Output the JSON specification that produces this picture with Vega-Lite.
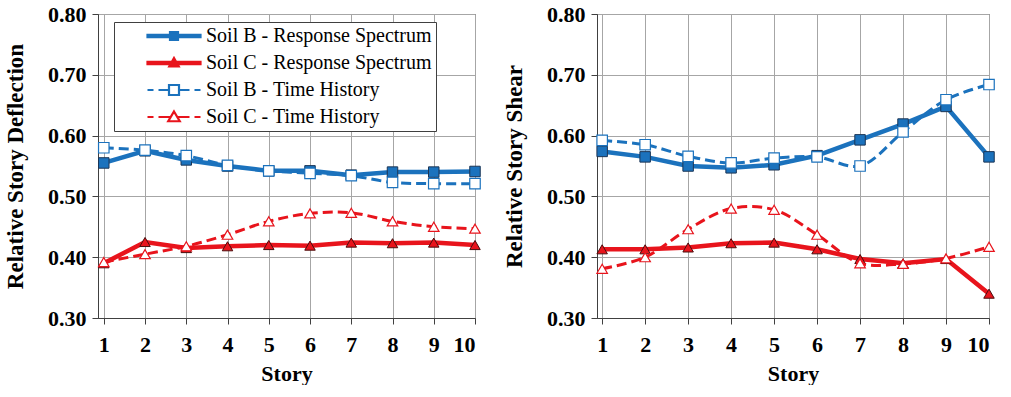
{
  "$schema": "https://vega.github.io/schema/vega-lite/v6.json",
  "background": "white",
  "padding": {"left": 4, "top": 2, "right": 0, "bottom": 0},
  "spacing": 18,
  "config": {
    "font": "Liberation Serif",
    "view": {"stroke": "#404040", "strokeWidth": 1},
    "legend": {"labelFont": "Liberation Serif", "labelFontSize": 20, "labelFontWeight": "normal", "labelColor": "black"},
    "axis": {
      "labelFont": "Liberation Serif", "labelFontWeight": "bold", "labelFontSize": 22, "labelColor": "black",
      "titleFont": "Liberation Serif", "titleFontWeight": "bold", "titleFontSize": 22, "titleColor": "black",
      "gridColor": "#a6a6a6", "gridOpacity": 1, "gridWidth": 1,
      "domainColor": "#404040", "tickColor": "#404040", "tickSize": 6, "labelPadding": 6
    }
  },
  "datasets": {
    "deflection": [
      {"story": 1, "series": "Soil B - Response Spectrum", "value": 0.555},
      {"story": 2, "series": "Soil B - Response Spectrum", "value": 0.575},
      {"story": 3, "series": "Soil B - Response Spectrum", "value": 0.560},
      {"story": 4, "series": "Soil B - Response Spectrum", "value": 0.550},
      {"story": 5, "series": "Soil B - Response Spectrum", "value": 0.542},
      {"story": 6, "series": "Soil B - Response Spectrum", "value": 0.542},
      {"story": 7, "series": "Soil B - Response Spectrum", "value": 0.535},
      {"story": 8, "series": "Soil B - Response Spectrum", "value": 0.540},
      {"story": 9, "series": "Soil B - Response Spectrum", "value": 0.540},
      {"story": 10, "series": "Soil B - Response Spectrum", "value": 0.541},
      {"story": 1, "series": "Soil C - Response Spectrum", "value": 0.390},
      {"story": 2, "series": "Soil C - Response Spectrum", "value": 0.425},
      {"story": 3, "series": "Soil C - Response Spectrum", "value": 0.415},
      {"story": 4, "series": "Soil C - Response Spectrum", "value": 0.418},
      {"story": 5, "series": "Soil C - Response Spectrum", "value": 0.420},
      {"story": 6, "series": "Soil C - Response Spectrum", "value": 0.419},
      {"story": 7, "series": "Soil C - Response Spectrum", "value": 0.424},
      {"story": 8, "series": "Soil C - Response Spectrum", "value": 0.423},
      {"story": 9, "series": "Soil C - Response Spectrum", "value": 0.424},
      {"story": 10, "series": "Soil C - Response Spectrum", "value": 0.420},
      {"story": 1, "series": "Soil B - Time History", "value": 0.580},
      {"story": 2, "series": "Soil B - Time History", "value": 0.576},
      {"story": 3, "series": "Soil B - Time History", "value": 0.567},
      {"story": 4, "series": "Soil B - Time History", "value": 0.551},
      {"story": 5, "series": "Soil B - Time History", "value": 0.542},
      {"story": 6, "series": "Soil B - Time History", "value": 0.538},
      {"story": 7, "series": "Soil B - Time History", "value": 0.534},
      {"story": 8, "series": "Soil B - Time History", "value": 0.523},
      {"story": 9, "series": "Soil B - Time History", "value": 0.521},
      {"story": 10, "series": "Soil B - Time History", "value": 0.521},
      {"story": 1, "series": "Soil C - Time History", "value": 0.392},
      {"story": 2, "series": "Soil C - Time History", "value": 0.405},
      {"story": 3, "series": "Soil C - Time History", "value": 0.418},
      {"story": 4, "series": "Soil C - Time History", "value": 0.437},
      {"story": 5, "series": "Soil C - Time History", "value": 0.459},
      {"story": 6, "series": "Soil C - Time History", "value": 0.472},
      {"story": 7, "series": "Soil C - Time History", "value": 0.473},
      {"story": 8, "series": "Soil C - Time History", "value": 0.459},
      {"story": 9, "series": "Soil C - Time History", "value": 0.450},
      {"story": 10, "series": "Soil C - Time History", "value": 0.447}
    ],
    "shear": [
      {"story": 1, "series": "Soil B - Response Spectrum", "value": 0.574},
      {"story": 2, "series": "Soil B - Response Spectrum", "value": 0.565},
      {"story": 3, "series": "Soil B - Response Spectrum", "value": 0.550},
      {"story": 4, "series": "Soil B - Response Spectrum", "value": 0.547},
      {"story": 5, "series": "Soil B - Response Spectrum", "value": 0.552},
      {"story": 6, "series": "Soil B - Response Spectrum", "value": 0.567},
      {"story": 7, "series": "Soil B - Response Spectrum", "value": 0.593},
      {"story": 8, "series": "Soil B - Response Spectrum", "value": 0.619},
      {"story": 9, "series": "Soil B - Response Spectrum", "value": 0.648},
      {"story": 10, "series": "Soil B - Response Spectrum", "value": 0.565},
      {"story": 1, "series": "Soil C - Response Spectrum", "value": 0.413},
      {"story": 2, "series": "Soil C - Response Spectrum", "value": 0.413},
      {"story": 3, "series": "Soil C - Response Spectrum", "value": 0.416},
      {"story": 4, "series": "Soil C - Response Spectrum", "value": 0.423},
      {"story": 5, "series": "Soil C - Response Spectrum", "value": 0.424},
      {"story": 6, "series": "Soil C - Response Spectrum", "value": 0.413},
      {"story": 7, "series": "Soil C - Response Spectrum", "value": 0.397},
      {"story": 8, "series": "Soil C - Response Spectrum", "value": 0.390},
      {"story": 9, "series": "Soil C - Response Spectrum", "value": 0.397},
      {"story": 10, "series": "Soil C - Response Spectrum", "value": 0.340},
      {"story": 1, "series": "Soil B - Time History", "value": 0.592},
      {"story": 2, "series": "Soil B - Time History", "value": 0.585},
      {"story": 3, "series": "Soil B - Time History", "value": 0.566},
      {"story": 4, "series": "Soil B - Time History", "value": 0.555},
      {"story": 5, "series": "Soil B - Time History", "value": 0.563},
      {"story": 6, "series": "Soil B - Time History", "value": 0.565},
      {"story": 7, "series": "Soil B - Time History", "value": 0.550},
      {"story": 8, "series": "Soil B - Time History", "value": 0.606},
      {"story": 9, "series": "Soil B - Time History", "value": 0.659},
      {"story": 10, "series": "Soil B - Time History", "value": 0.684},
      {"story": 1, "series": "Soil C - Time History", "value": 0.381},
      {"story": 2, "series": "Soil C - Time History", "value": 0.400},
      {"story": 3, "series": "Soil C - Time History", "value": 0.446},
      {"story": 4, "series": "Soil C - Time History", "value": 0.480},
      {"story": 5, "series": "Soil C - Time History", "value": 0.478},
      {"story": 6, "series": "Soil C - Time History", "value": 0.437},
      {"story": 7, "series": "Soil C - Time History", "value": 0.390},
      {"story": 8, "series": "Soil C - Time History", "value": 0.389},
      {"story": 9, "series": "Soil C - Time History", "value": 0.398},
      {"story": 10, "series": "Soil C - Time History", "value": 0.417}
    ]
  },
  "resolve": {"scale": {"color": "independent", "stroke": "independent", "shape": "independent", "opacity": "independent"}},
  "hconcat": [
    {
      "width": 377, "height": 304,
      "data": {"name": "deflection"},
      "encoding": {
        "x": {"field": "story", "type": "quantitative", "scale": {"domain": [0.86, 10], "nice": false, "zero": false},
              "axis": {"values": [1,2,3,4,5,6,7,8,9,10], "format": "d", "title": "Story", "labelPadding": 10, "titlePadding": 8, "grid": true}},
        "y": {"field": "value", "type": "quantitative", "scale": {"domain": [0.3, 0.8], "nice": false, "zero": false},
              "axis": {"values": [0.3,0.4,0.5,0.6,0.7,0.8], "format": ".2f", "title": "Relative Story Deflection", "titleFontSize": 23, "titlePadding": 20, "grid": true}}
      },
      "layer": [
        {
          "transform": [{"filter": "indexof(datum.series, 'Response') >= 0"}],
          "mark": {"type": "line", "strokeWidth": 4.5, "interpolate": "linear"},
          "encoding": {
            "color": {"field": "series", "type": "nominal",
              "scale": {"domain": ["Soil B - Time History", "Soil C - Time History", "Soil B - Response Spectrum", "Soil C - Response Spectrum"], "range": ["#1b72bd", "#e8141c", "#1b72bd", "#e8141c"]},
              "legend": null},
            "opacity": {"field": "series", "type": "nominal",
              "scale": {"type": "ordinal", "domain": ["Soil B - Response Spectrum", "Soil C - Response Spectrum", "Soil B - Time History", "Soil C - Time History"], "range": [1, 1, 1, 1]},
              "legend": {
                "orient": "none", "legendX": 16, "legendY": 8, "title": null,
                "padding": 4, "rowPadding": 7, "symbolOffset": 46, "labelOffset": 22,
                "labelFont": "Liberation Serif", "labelFontSize": 20, "labelFontWeight": "normal", "labelColor": "black", "labelLimit": 600,
                "strokeColor": "#404040", "fillColor": "white", "symbolSize": 100, "symbolStrokeWidth": 2.2,
                "encode": {
                  "labels": {"update": {
                    "text": {"signal": "datum.label + '\u00a0\u00a0\u00a0\u00a0\u00a0\u00a0'"}
                  }},
                  "symbols": {"update": {
                  "shape": {"signal": "datum.value == 'Soil B - Response Spectrum' ? 'M-5.3,-0.22H5.3V0.22H-5.3ZM-0.8,-0.8H0.8V0.8H-0.8Z' : datum.value == 'Soil C - Response Spectrum' ? 'M-5.3,-0.22H5.3V0.22H-5.3ZM0,-1L0.95,0.7H-0.95Z' : datum.value == 'Soil B - Time History' ? 'M-5.3,0H-4.1M-3.1,0H-1M1,0H3.1M4.1,0H5.3M-1,-1H1V1H-1Z' : 'M-5.3,0H-4.1M-3.1,0H-0.7M0.7,0H3.1M4.1,0H5.3M0,-1.1L1.15,0.85H-1.15Z'"},
                  "fill": {"signal": "indexof(datum.value, 'Response') >= 0 ? (indexof(datum.value, 'Soil B') == 0 ? '#1b72bd' : '#e8141c') : 'white'"},
                  "stroke": {"signal": "indexof(datum.value, 'Soil B') == 0 ? '#1b72bd' : '#e8141c'"},
                  "strokeWidth": {"value": 2.2},
                  "size": {"value": 100},
                  "fillOpacity": {"value": 1},
                  "strokeOpacity": {"value": 1}
                }}}
              }}
          }
        },
        {
          "transform": [{"filter": "indexof(datum.series, 'Response') >= 0"}],
          "mark": {"type": "point", "filled": true, "size": 110, "strokeWidth": 1, "opacity": 1},
          "encoding": {
            "color": {"field": "series", "type": "nominal", "legend": null},
            "shape": {"field": "series", "type": "nominal", "scale": {"domain": ["Soil C - Response Spectrum", "Soil B - Response Spectrum", "Soil C - Time History", "Soil B - Time History"], "range": ["triangle-up", "square", "triangle-up", "square"]}, "legend": null},
            "stroke": {"field": "series", "type": "nominal", "scale": {"domain": ["Soil B - Response Spectrum", "Soil C - Response Spectrum"], "range": ["#1b3556", "#4a0c0c"]}, "legend": null}
          }
        },
        {
          "transform": [{"filter": "indexof(datum.series, 'Time') >= 0"}],
          "mark": {"type": "line", "strokeWidth": 3, "strokeDash": [10, 5], "interpolate": "catmull-rom"},
          "encoding": {"color": {"field": "series", "type": "nominal", "legend": null}}
        },
        {
          "transform": [{"filter": "indexof(datum.series, 'Time') >= 0"}],
          "mark": {"type": "point", "filled": false, "fill": "white", "fillOpacity": 1, "size": 110, "strokeWidth": 1.2, "opacity": 1},
          "encoding": {
            "color": {"field": "series", "type": "nominal", "legend": null},
            "shape": {"field": "series", "type": "nominal", "legend": null}
          }
        }
      ]
    },
    {
      "width": 392, "height": 304,
      "data": {"name": "shear"},
      "encoding": {
        "x": {"field": "story", "type": "quantitative", "scale": {"domain": [0.88, 10], "nice": false, "zero": false},
              "axis": {"values": [1,2,3,4,5,6,7,8,9,10], "format": "d", "title": "Story", "labelPadding": 10, "titlePadding": 8, "grid": true}},
        "y": {"field": "value", "type": "quantitative", "scale": {"domain": [0.3, 0.8], "nice": false, "zero": false},
              "axis": {"values": [0.3,0.4,0.5,0.6,0.7,0.8], "format": ".2f", "title": "Relative Story Shear", "titleFontSize": 23, "titlePadding": 20, "grid": true}}
      },
      "layer": [
        {
          "transform": [{"filter": "indexof(datum.series, 'Response') >= 0"}],
          "mark": {"type": "line", "strokeWidth": 4.5, "interpolate": "linear"},
          "encoding": {
            "color": {"field": "series", "type": "nominal",
              "scale": {"domain": ["Soil B - Response Spectrum", "Soil C - Response Spectrum", "Soil B - Time History", "Soil C - Time History"], "range": ["#1b72bd", "#e8141c", "#1b72bd", "#e8141c"]},
              "legend": null}
          }
        },
        {
          "transform": [{"filter": "indexof(datum.series, 'Response') >= 0"}],
          "mark": {"type": "point", "filled": true, "size": 110, "strokeWidth": 1, "opacity": 1},
          "encoding": {
            "color": {"field": "series", "type": "nominal", "legend": null},
            "shape": {"field": "series", "type": "nominal", "scale": {"domain": ["Soil B - Response Spectrum", "Soil C - Response Spectrum", "Soil B - Time History", "Soil C - Time History"], "range": ["square", "triangle-up", "square", "triangle-up"]}, "legend": null},
            "stroke": {"field": "series", "type": "nominal", "scale": {"domain": ["Soil B - Response Spectrum", "Soil C - Response Spectrum"], "range": ["#1b3556", "#4a0c0c"]}, "legend": null}
          }
        },
        {
          "transform": [{"filter": "indexof(datum.series, 'Time') >= 0"}],
          "mark": {"type": "line", "strokeWidth": 3, "strokeDash": [10, 5], "interpolate": "catmull-rom"},
          "encoding": {"color": {"field": "series", "type": "nominal", "legend": null}}
        },
        {
          "transform": [{"filter": "indexof(datum.series, 'Time') >= 0"}],
          "mark": {"type": "point", "filled": false, "fill": "white", "fillOpacity": 1, "size": 110, "strokeWidth": 1.2, "opacity": 1},
          "encoding": {
            "color": {"field": "series", "type": "nominal", "legend": null},
            "shape": {"field": "series", "type": "nominal", "legend": null}
          }
        }
      ]
    }
  ]
}
